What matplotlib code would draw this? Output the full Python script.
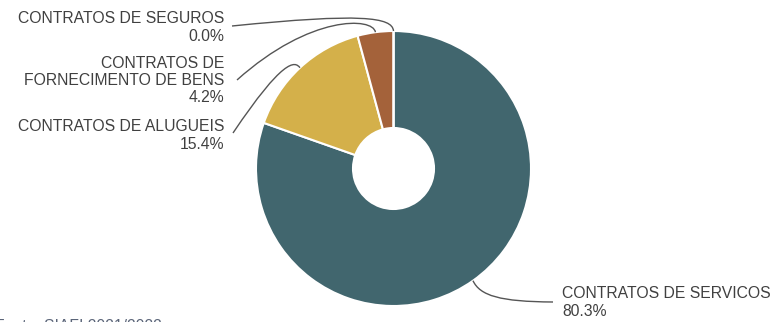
import numpy as np
import matplotlib.pyplot as plt
from matplotlib.path import Path
from matplotlib.patches import PathPatch

plt.rcParams['font.family'] = ['Liberation Sans', 'DejaVu Sans']

categorias = ['CONTRATOS DE SERVICOS', 'CONTRATOS DE ALUGUEIS',
              'CONTRATOS DE\nFORNECIMENTO DE BENS', 'CONTRATOS DE SEGUROS']
percentuais = [80.3, 15.4, 4.2, 0.0]
cores = ['#41666e', '#d4b04a', '#a4623a', '#8a8a8a']
fonte = 'Fonte: SIAFI 2021/2022'

W, H = 774, 322
centro = (393.5, H - 168.5)
raio = 137.5
raio_interno = 40.5

fig = plt.figure(figsize=(W / 100, H / 100), dpi=100)
ax = fig.add_axes([0, 0, 1, 1])

wedges, _ = ax.pie(percentuais, colors=cores, startangle=90, counterclock=False,
                   radius=raio, center=centro,
                   wedgeprops=dict(width=raio - raio_interno, edgecolor='white', linewidth=1.5))

ax.set_xlim(0, W)
ax.set_ylim(0, H)
ax.set_aspect('equal')
ax.axis('off')

# label placement (image coords: x, y from top), alignment and bezier controls
rotulos = [
    dict(xy=(562, 302.5), ha='left', c1=(7, 15), c2=(27, 21), fim=(553, 302)),
    dict(xy=(224, 135.5), ha='right', c1=(-5, -7), c2=(-17, -9), fim=(233, 133)),
    dict(xy=(224, 80.5), ha='right', c1=(-2, -15), c2=(-65, -18), fim=(237, 80)),
    dict(xy=(224, 27.5), ha='right', c1=(-1, -14), c2=(-33, -18), fim=(232, 26)),
]

for w, cat, pct, r in zip(wedges, categorias, percentuais, rotulos):
    ang = np.deg2rad((w.theta1 + w.theta2) / 2)
    x0 = centro[0] + raio * np.cos(ang)
    y0 = H - (centro[1] + raio * np.sin(ang))
    pts = [(x0, y0),
           (x0 + r['c1'][0], y0 + r['c1'][1]),
           (x0 + r['c2'][0], y0 + r['c2'][1]),
           r['fim']]
    pts = [(px, H - py) for px, py in pts]
    path = Path(pts, [Path.MOVETO, Path.CURVE4, Path.CURVE4, Path.CURVE4])
    ax.add_patch(PathPatch(path, facecolor='none', edgecolor='#555555', lw=1.0))
    ax.text(r['xy'][0], H - r['xy'][1], f'{cat}\n{pct:.1f}%', ha=r['ha'], va='center',
            multialignment=r['ha'], fontsize=11.3, color='#404040', linespacing=1.17)

# source note sits at the lower edge of the figure
ax.text(-5, H - 319, fonte, ha='left', va='top', fontsize=11.3, color='#5a6478')

fig.savefig('out.png', dpi=100)
